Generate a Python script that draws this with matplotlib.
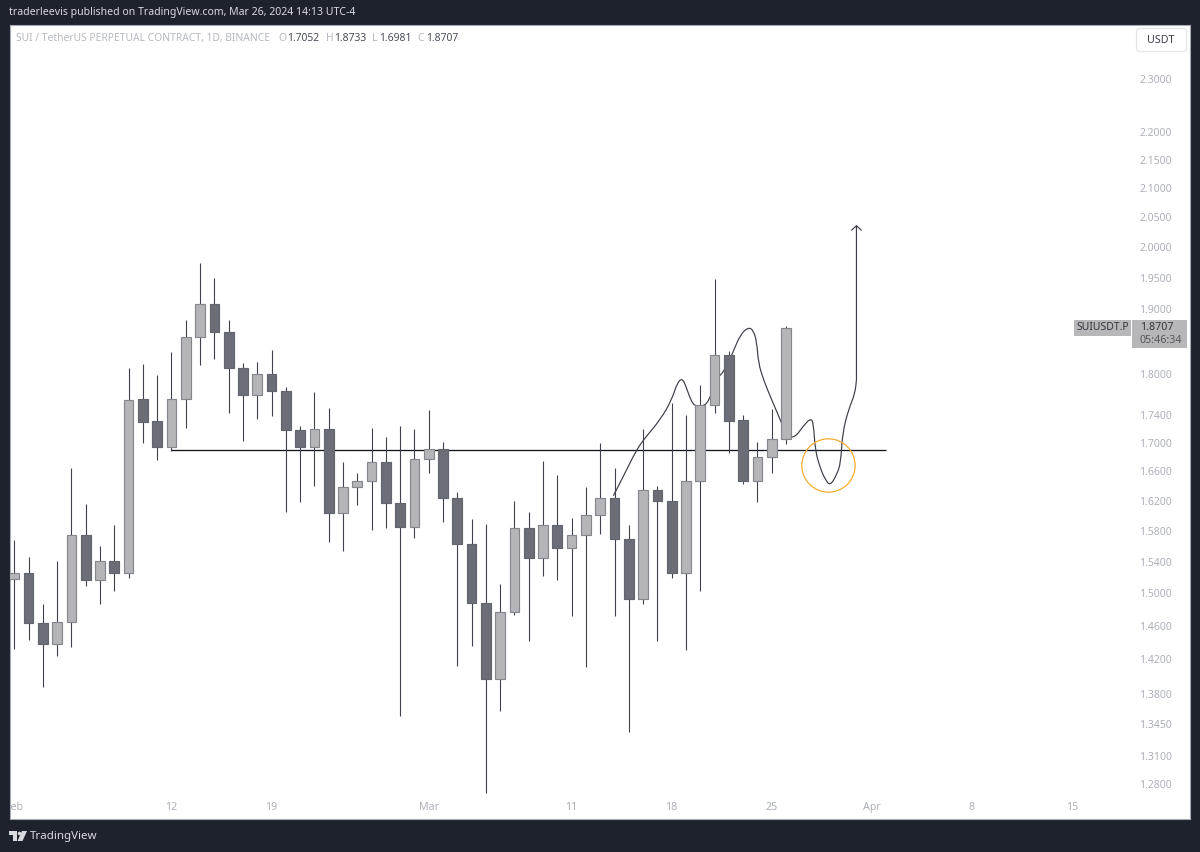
import matplotlib
matplotlib.use("Agg")
import matplotlib.pyplot as plt
from matplotlib.patches import Rectangle, FancyBboxPatch, Polygon, PathPatch
from matplotlib.path import Path
from matplotlib.ticker import NullLocator

W, H = 1200, 852
plt.rcParams['font.family'] = ['Noto Sans', 'DejaVu Sans']

opens = [1.518,1.526,1.463,1.438,1.465,1.575,1.517,1.541,1.526,1.763,1.731,1.694,1.763,1.856,1.908,1.864,1.809,1.769,1.800,1.775,
         1.718,1.694,1.720,1.604,1.638,1.647,1.673,1.617,1.585,1.677,1.691,1.624,1.562,1.488,1.397,1.477,1.584,1.545,1.587,1.558,
         1.575,1.601,1.624,1.569,1.493,1.635,1.620,1.526,1.647,1.754,1.829,1.733,1.646,1.680,1.7052]
highs = [1.568,1.546,1.486,1.541,1.664,1.616,1.560,1.588,1.809,1.815,1.799,1.833,1.883,1.974,1.950,1.883,1.817,1.818,1.836,1.781,
         1.724,1.773,1.750,1.673,1.658,1.721,1.708,1.724,1.720,1.747,1.701,1.632,1.595,1.589,1.512,1.620,1.605,1.674,1.655,1.597,
         1.638,1.699,1.664,1.587,1.720,1.640,1.757,1.740,1.783,1.948,1.835,1.740,1.701,1.748,1.8733]
lows = [1.432,1.443,1.388,1.424,1.434,1.509,1.486,1.503,1.519,1.699,1.675,1.688,1.721,1.814,1.823,1.743,1.702,1.734,1.738,1.605,
        1.618,1.640,1.565,1.554,1.614,1.581,1.584,1.355,1.571,1.657,1.591,1.412,1.436,1.270,1.360,1.473,1.442,1.522,1.516,1.472,
        1.411,1.576,1.472,1.336,1.487,1.441,1.519,1.431,1.503,1.743,1.686,1.643,1.618,1.658,1.6981]
closes = [1.526,1.463,1.438,1.465,1.575,1.517,1.541,1.526,1.761,1.730,1.694,1.763,1.856,1.908,1.864,1.809,1.769,1.800,1.775,1.718,
          1.694,1.720,1.604,1.638,1.647,1.673,1.617,1.585,1.677,1.691,1.624,1.562,1.488,1.397,1.477,1.583,1.545,1.587,1.558,1.575,
          1.601,1.624,1.569,1.493,1.635,1.620,1.526,1.647,1.754,1.829,1.731,1.646,1.680,1.705,1.8707]
days = list(range(len(opens)))

price_ticks = [2.30,2.20,2.15,2.10,2.05,2.00,1.95,1.90,1.80,1.74,1.70,1.66,1.62,1.58,1.54,1.50,1.46,1.42,1.38,1.345,1.31,1.28]
day_ticks = [0,11,18,29,39,46,53,60,67,74]
day_labels = ['Feb','12','19','Mar','11','18','25','Apr','8','15']

level_start, level_end, level_price = 11, 61, 1.69
path_days = [41.92,42.62,43.51,44.02,45.24,46.0,46.4,46.75,47.0,47.33,47.64,48.22,48.64,49.27,49.62,50.27,50.79,51.37,51.72,51.95,
             52.07,52.42,53.0,53.7,54.05,54.64,55.22,55.73,55.92,56.04,56.39,56.74,57.09,57.55,57.83,57.95,58.37,58.83,58.93,58.93]
path_prices = [1.6266,1.653,1.6886,1.7038,1.7336,1.7614,1.7873,1.7933,1.7814,1.7614,1.7518,1.7518,1.7614,1.7963,1.8023,1.8312,1.8594,1.8714,1.8661,1.8489,
               1.8163,1.7914,1.7614,1.7278,1.7083,1.7074,1.7240,1.7349,1.7278,1.6896,1.6645,1.6490,1.6400,1.6553,1.6714,1.7134,1.7470,1.7709,1.7914,2.0354]
arrow_days = [58.60,58.93,59.26]
arrow_prices = [2.0286,2.036,2.0286]
circle_day, circle_price = 56.94, 1.669

BG = '#1e222d'
LIGHT, DARK = '#b5b5b9', '#6c6e77'
LIGHT_EDGE, DARK_EDGE = '#85878f', '#62646e'
WICK = '#3f424e'
TICK = '#adb0b9'

fig = plt.figure(figsize=(W/100, H/100), dpi=100, facecolor=BG)
L, R, T, B = 9.5, 1190, 25, 819
ax = fig.add_axes([L/W, 1-B/H, (R-L)/W, (B-T)/H], facecolor='white')
ax.set_yscale('log')
ax.set_xlim(-0.336, 82.27)
ax.set_ylim(1.2433, 2.4056)

# drawings sit under the candles
ax.plot([level_start, level_end], [level_price, level_price], color='#131722', lw=0.95, zorder=1, solid_capstyle='butt')
verts = [(path_days[0], path_prices[0])]
codes = [Path.MOVETO]
pts = list(zip(path_days, path_prices))
for i in range(1, len(pts) - 2):
    mx = (pts[i][0] + pts[i+1][0]) / 2
    my = (pts[i][1] + pts[i+1][1]) / 2
    verts += [pts[i], (mx, my)]
    codes += [Path.CURVE3, Path.CURVE3]
verts += [pts[-2], pts[-1]]
codes += [Path.LINETO, Path.LINETO]
ax.add_patch(PathPatch(Path(verts, codes), fc='none', ec='#3a3d48', lw=0.85, zorder=1))
ax.plot(arrow_days, arrow_prices, color='#3a3d48', lw=0.85, zorder=1)
ax.plot([circle_day], [circle_price], marker='o', ms=38.4, mfc='none', mec='#f9a825', mew=0.85, zorder=1)

ax.vlines(days, lows, highs, color=WICK, lw=0.8, zorder=2)
for d, o, c in zip(days, opens, closes):
    up = c >= o
    ax.bar(d, abs(c-o), bottom=min(o, c), width=0.68, color=LIGHT if up else DARK,
           edgecolor=LIGHT_EDGE if up else DARK_EDGE, linewidth=0.85, zorder=3)

ax.yaxis.set_minor_locator(NullLocator())
ax.yaxis.tick_right()
ax.set_yticks(price_ticks)
ax.set_yticklabels([f'{p:.4f}' for p in price_ticks])
ax.tick_params(axis='y', length=0, pad=-13, labelsize=7.5, labelcolor=TICK)
for t in ax.get_yticklabels():
    t.set_ha('right')
ax.set_xticks(day_ticks)
ax.set_xticklabels(day_labels)
ax.tick_params(axis='x', length=0, pad=-12.5, labelsize=7.7, labelcolor=TICK)
for t in ax.get_xticklabels():
    t.set_clip_box(ax.bbox)
    t.set_clip_on(True)
for s in ax.spines.values():
    s.set_color('#a6a9b2')
    s.set_linewidth(0.8)

def ptext(x, y, s, color, size=7.7, ha='left', **kw):
    return fig.text(x/W, 1-y/H, s, color=color, fontsize=size, ha=ha, va='center', **kw)

ptext(9, 13, 'traderleevis published on TradingView.com, Mar 26, 2024 14:13 UTC-4', '#d8dae0', 7.55)
grey, val = '#b6b9c2', '#4a4d59'
ptext(16, 38.5, 'SUI / TetherUS PERPETUAL CONTRACT, 1D, BINANCE', grey, 7.45)
for xl, xv, lab, v in [(278, 287, 'O', '1.7052'), (326, 334, 'H', '1.8733'), (372, 379, 'L', '1.6981'), (417, 426, 'C', '1.8707')]:
    ptext(xl, 38.5, lab, grey, 7.45)
    ptext(xv, 38.5, v, val, 7.45)

def px_patch(p):
    fig.add_artist(p)

btn = FancyBboxPatch((1136.5/W, 1-51.5/H), 50/W, 23/H, boxstyle='round,pad=0,rounding_size=0.003',
                     transform=fig.transFigure, fc='white', ec='#e3e5ea', lw=0.9, mutation_aspect=W/H)
px_patch(btn)
ptext(1161, 40.5, 'USDT', '#3a3d48', 7.7, ha='center')

px_patch(Rectangle((1074/W, 1-336/H), 57/W, 16/H, transform=fig.transFigure, fc='#b7b7b9', ec='none'))
ptext(1102.5, 328, 'SUIUSDT.P', '#33353f', 7.5, ha='center')
px_patch(Rectangle((1132/W, 1-348/H), 55/W, 28/H, transform=fig.transFigure, fc='#b7b7b9', ec='none'))
ptext(1140, 328, '1.8707', '#33353f', 7.7)
ptext(1139, 341, '05:46:34', '#55575f', 7.7)

# TradingView mark
LOGO = '#d8dae0'
px_patch(Polygon([(9/W, 1-831/H), (17/W, 1-831/H), (17/W, 1-841/H), (13/W, 1-841/H), (13/W, 1-835/H), (9/W, 1-835/H)],
                 transform=fig.transFigure, fc=LOGO, ec='none'))
px_patch(Polygon([(22/W, 1-831/H), (27/W, 1-831/H), (22.5/W, 1-841/H), (17.5/W, 1-841/H)],
                 transform=fig.transFigure, fc=LOGO, ec='none'))
fig.add_artist(plt.Line2D([19.3/W], [1-833/H], marker='o', ms=2.6, color=LOGO, mew=0, transform=fig.transFigure))
ptext(30, 836, 'TradingView', '#d8dae0', 8.3)

fig.savefig('out.png', dpi=100, facecolor=BG)
